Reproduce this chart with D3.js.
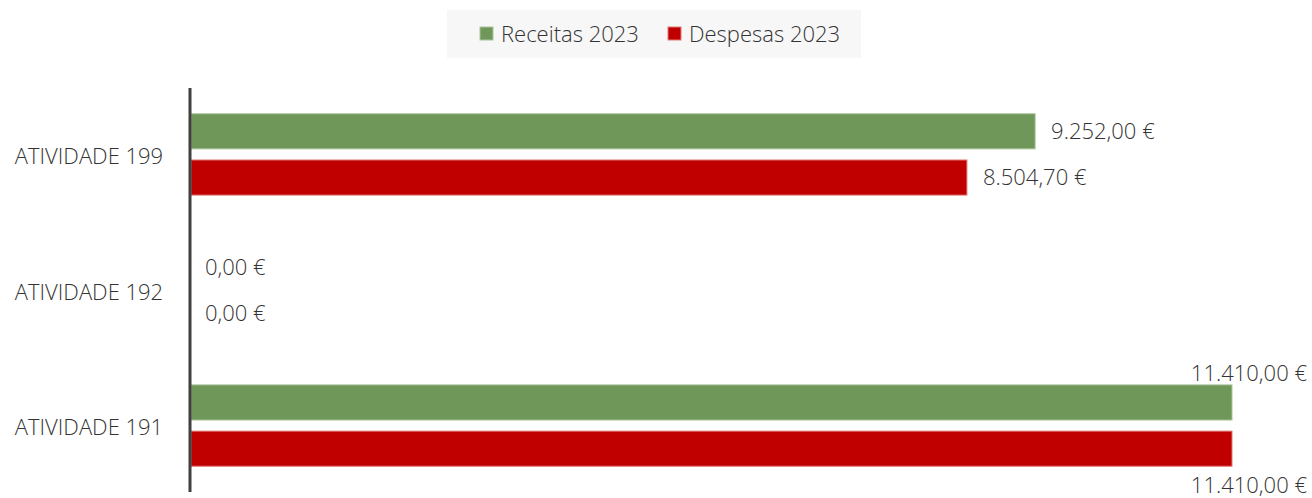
<!DOCTYPE html>
<html>
<head>
<meta charset="utf-8">
<script src="https://cdn.jsdelivr.net/npm/d3@7.9.0/dist/d3.min.js"></script>
<style>
  body { margin: 0; background: #fff; }
  svg text { font-family: "Open Sans", "Segoe UI", sans-serif; font-weight: 300; fill: #333; }
</style>
</head>
<body>
<svg width="1312" height="498"></svg>
<script>
const categories = ['ATIVIDADE 199', 'ATIVIDADE 192', 'ATIVIDADE 191'];
const seriesNames = ['Receitas 2023', 'Despesas 2023'];
const receitas = [9252.00, 0, 11410.00];
const despesas = [8504.70, 0, 11410.00];
const colors = ['#70975a', '#c00000'];
const strokes = ['#a9c59a', '#e07b7b'];

const svg = d3.select('svg');
const margin = { top: 88, right: 81, bottom: 6, left: 190 };
const width = 1312 - margin.left - margin.right;
const height = 498 - margin.top - margin.bottom;

const x = d3.scaleLinear().domain([0, 11410]).range([0, width]);
const y = d3.scaleBand().domain(categories).range([0, height]).paddingInner(0.40).paddingOuter(0.19);
const ySub = d3.scaleBand().domain(seriesNames).range([0, y.bandwidth()]).paddingInner(0.24);

const fmt = v => d3.formatLocale({ decimal: ',', thousands: '.', grouping: [3] }).format(',.2f')(v) + ' €';

const g = svg.append('g').attr('transform', `translate(${margin.left},${margin.top})`);

const data = categories.map((c, i) => ({ cat: c, values: [receitas[i], despesas[i]] }));

data.forEach(d => {
  d.values.forEach((v, s) => {
    const yy = y(d.cat) + ySub(seriesNames[s]);
    if (v > 0) {
      g.append('rect')
        .attr('x', 1)
        .attr('y', yy)
        .attr('width', x(v))
        .attr('height', ySub.bandwidth())
        .attr('fill', colors[s])
        .attr('stroke', strokes[s])
        .attr('stroke-width', 1);
    }
    // label: outside end, move above/below when it would overflow
    const lx = x(v) + 17;
    const lab = g.append('text')
      .style('font-size', '22px')
      .text(fmt(v));
    if (lx + 110 > width + margin.right) {
      lab.attr('x', width + margin.right - 5)
        .attr('text-anchor', 'end')
        .attr('y', s === 0 ? yy - 12 : yy + ySub.bandwidth() + 19)
        .attr('dy', '0.35em');
    } else {
      lab.attr('x', v > 0 ? lx : 15)
        .attr('y', yy + ySub.bandwidth() / 2)
        .attr('dy', '0.35em');
    }
  });
});

// category labels
g.selectAll('.cat')
  .data(categories)
  .join('text')
  .attr('x', -101)
  .attr('y', d => y(d) + y.bandwidth() / 2 + 2)
  .attr('dy', '0.35em')
  .attr('text-anchor', 'middle')
  .style('font-size', '22px')
  .text(d => d);

// vertical axis line
g.append('line')
  .attr('x1', 0).attr('x2', 0)
  .attr('y1', 0).attr('y2', height)
  .attr('stroke', '#404040')
  .attr('stroke-width', 3);

// legend
const legend = svg.append('g');
legend.append('rect')
  .attr('x', 447).attr('y', 10).attr('width', 414).attr('height', 48)
  .attr('fill', '#f7f7f7');
const legX = [480, 668];
seriesNames.forEach((n, i) => {
  legend.append('rect')
    .attr('x', legX[i]).attr('y', 27).attr('width', 13).attr('height', 13)
    .attr('fill', colors[i]).attr('stroke', strokes[i]).attr('stroke-width', 1);
  legend.append('text')
    .attr('x', legX[i] + 21).attr('y', 34).attr('dy', '0.35em')
    .style('font-size', '22px')
    .text(n);
});
</script>
</body>
</html>
